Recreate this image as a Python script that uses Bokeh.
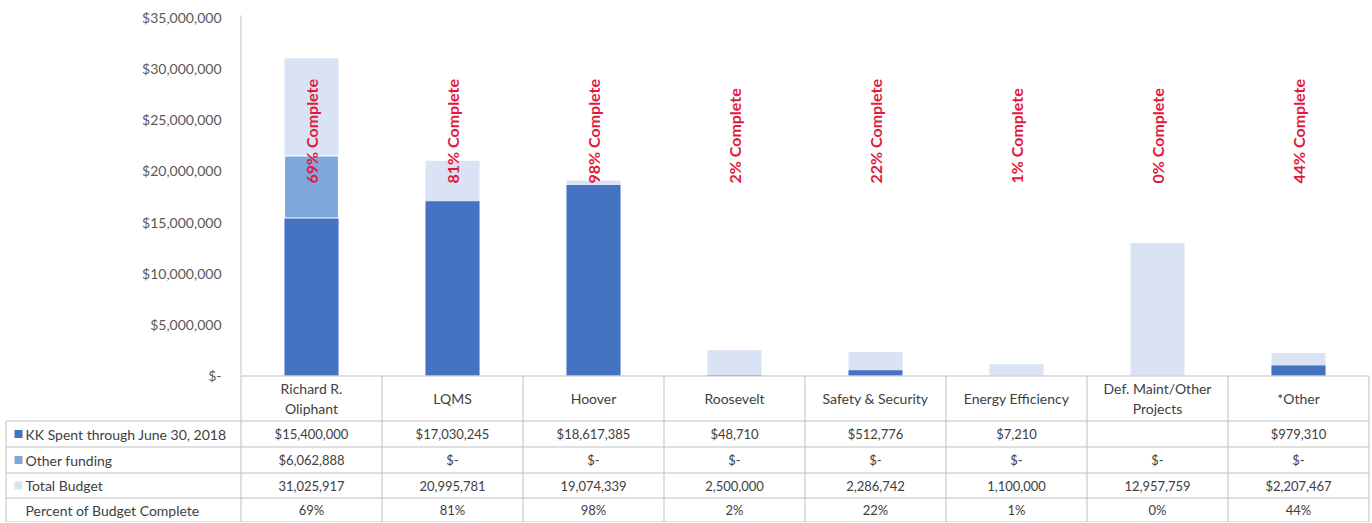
import math
from bokeh.plotting import figure
from bokeh.models import Range1d
from bokeh.embed import file_html
from bokeh.resources import INLINE
from bokeh.core.properties import value

# ---------------- data ----------------
categories = ["Richard R. Oliphant", "LQMS", "Hoover", "Roosevelt",
              "Safety & Security", "Energy Efficiency",
              "Def. Maint/Other Projects", "*Other"]
header_labels = ["Richard R.\nOliphant", "LQMS", "Hoover", "Roosevelt",
                 "Safety & Security", "Energy Efficiency",
                 "Def. Maint/Other\nProjects", "*Other"]
kk_spent = [15400000, 17030245, 18617385, 48710, 512776, 7210, 0, 979310]
other_funding = [6062888, 0, 0, 0, 0, 0, 0, 0]
total_budget = [31025917, 20995781, 19074339, 2500000, 2286742, 1100000, 12957759, 2207467]
pct_complete = [69, 81, 98, 2, 22, 1, 0, 44]

kk_spent_labels = ["$15,400,000", "$17,030,245", "$18,617,385", "$48,710",
                   "$512,776", "$7,210", "", "$979,310"]
other_funding_labels = ["$6,062,888", "$-", "$-", "$-", "$-", "$-", "$-", "$-"]
total_budget_labels = ["31,025,917", "20,995,781", "19,074,339", "2,500,000",
                       "2,286,742", "1,100,000", "12,957,759", "$2,207,467"]
pct_labels = ["69%", "81%", "98%", "2%", "22%", "1%", "0%", "44%"]
row_labels = ["KK Spent through June 30, 2018", "Other funding",
              "Total Budget", "Percent of Budget Complete"]
y_ticks = [0, 5000000, 10000000, 15000000, 20000000, 25000000, 30000000, 35000000]
y_tick_labels = ["$-", "$5,000,000", "$10,000,000", "$15,000,000", "$20,000,000",
                 "$25,000,000", "$30,000,000", "$35,000,000"]

# ---------------- style / layout ----------------
C_SPENT = "#4573C2"
C_OTHER = "#7FA7DC"
C_TOTAL = "#D9E3F4"
C_LINE = "#BFBFBF"
C_TEXT = "#404040"
C_AXIS_TEXT = "#595959"
C_RED = "#E2183D"
FONT = "Lato"

W, H = 1370, 522
N = len(categories)
AXIS_X = 240.5            # pixel x of the value axis
CAT_W = 141.0             # pixel width of one category column
ZERO_Y = 375.0            # pixel y of $0
PX_PER_USD = 358.0 / 35e6
BAR_W = 0.383
LABEL_Y = 18.77e6         # bottom of the rotated "% Complete" labels

def ux(px):
    return (px - AXIS_X) / CAT_W

x_rng = Range1d(ux(0), ux(W))
y_rng = Range1d(-(H - ZERO_Y) / PX_PER_USD, ZERO_Y / PX_PER_USD)

p = figure(x_range=x_rng, y_range=y_rng, width=W, height=H,
           output_backend="svg", toolbar_location=None, min_border=0,
           x_axis_location=None, y_axis_location=None)
p.title.visible = False
p.outline_line_color = None
p.grid.visible = False
p.background_fill_color = "white"
# table coordinates: pixel rows from the top
p.extra_y_ranges = {"tbl": Range1d(H - 0.5, -0.5)}

# ---------------- value axis ----------------
p.segment(x0=[0], y0=[0], x1=[0], y1=[35.2e6], line_color=C_LINE, line_width=1)
p.text(x=[ux(221)] * len(y_ticks), y=y_ticks, text=y_tick_labels,
       text_align="right", text_baseline="middle", text_color=C_AXIS_TEXT,
       text_font=value(FONT), text_font_size="14px")

# ---------------- bars ----------------
cx = [i + 0.5 for i in range(N)]
p.vbar(x=cx, top=total_budget, width=BAR_W, fill_color=C_TOTAL, line_color=None)
p.vbar(x=cx, top=kk_spent, width=BAR_W, fill_color=C_SPENT, line_color=None)
oi = [i for i, v in enumerate(other_funding) if v > 0]
p.vbar(x=[cx[i] for i in oi],
       bottom=[kk_spent[i] for i in oi],
       top=[kk_spent[i] + other_funding[i] for i in oi],
       width=BAR_W, fill_color=C_OTHER, line_color="white", line_width=1.2)

p.text(x=cx, y=[LABEL_Y] * N, text=[f"{v}% Complete" for v in pct_complete],
       angle=math.pi / 2, text_align="left", text_baseline="middle",
       text_color=C_RED, text_font=value(FONT), text_font_style="bold",
       text_font_size="16px")

# ---------------- data table ----------------
HDR_TOP, HDR_BOT = 375, 420
ROW_EDGES = [420, 446, 472, 497, 521]
TABLE_L = ux(5.5)

# category axis line / header top
p.segment(x0=[0], y0=[HDR_TOP], x1=[N], y1=[HDR_TOP], line_color=C_LINE, y_range_name="tbl")
# horizontal rules of the rows
p.segment(x0=[TABLE_L] * len(ROW_EDGES), y0=ROW_EDGES, x1=[N] * len(ROW_EDGES),
          y1=ROW_EDGES, line_color=C_LINE, y_range_name="tbl")
# vertical rules
vx = list(range(0, N + 1))
p.segment(x0=vx, y0=[HDR_TOP] * len(vx), x1=vx, y1=[ROW_EDGES[-1]] * len(vx),
          line_color=C_LINE, y_range_name="tbl")
p.segment(x0=[TABLE_L], y0=[HDR_BOT], x1=[TABLE_L], y1=[ROW_EDGES[-1]],
          line_color=C_LINE, y_range_name="tbl")

# header
p.text(x=cx, y=[(HDR_TOP + HDR_BOT) / 2] * N, text=header_labels,
       text_align="center", text_baseline="middle", text_color=C_TEXT,
       text_font=value(FONT), text_font_size="14px", text_line_height=1.12,
       y_range_name="tbl")

row_values = [kk_spent_labels, other_funding_labels, total_budget_labels, pct_labels]
key_colors = [C_SPENT, C_OTHER, C_TOTAL]
for r, (lab, vals) in enumerate(zip(row_labels, row_values)):
    yc = (ROW_EDGES[r] + ROW_EDGES[r + 1]) / 2
    if r < len(key_colors):
        p.rect(x=[ux(18)], y=[yc], width=8, height=8, width_units="screen",
               height_units="screen", fill_color=key_colors[r], line_color=None,
               y_range_name="tbl")
    p.text(x=[ux(25)], y=[yc], text=[lab], text_align="left", text_baseline="middle",
           text_color=C_TEXT, text_font=value(FONT), text_font_size="14px",
           y_range_name="tbl")
    p.text(x=cx, y=[yc] * N, text=vals, text_align="center", text_baseline="middle",
           text_color=C_TEXT, text_font=value(FONT), text_font_size="13px",
           y_range_name="tbl")

open("out.html", "w").write(file_html(p, INLINE))
